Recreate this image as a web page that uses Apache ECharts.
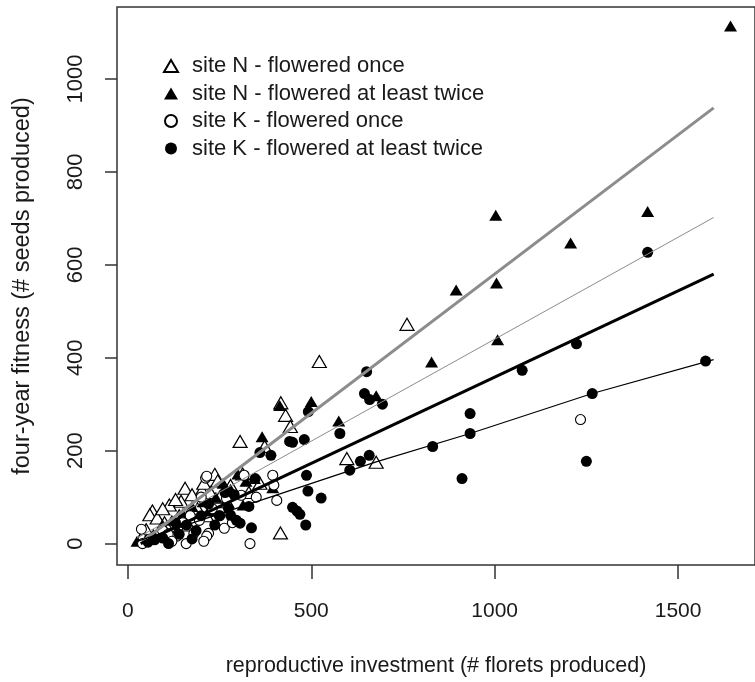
<!DOCTYPE html>
<html>
<head>
<meta charset="utf-8">
<script src="https://cdn.jsdelivr.net/npm/echarts@6/dist/echarts.min.js"></script>
<style>
html,body{margin:0;padding:0;background:#fff;}
#chart{width:755px;height:682px;}
</style>
</head>
<body>
<div id="chart"></div>
<script>
// ---- data ----
const seriesNames = [
  'site N - flowered once',
  'site N - flowered at least twice',
  'site K - flowered once',
  'site K - flowered at least twice'
];
const xTicks = [0, 500, 1000, 1500];
const yTicks = [0, 200, 400, 600, 800, 1000];
const xTitle = 'reproductive investment (# florets produced)';
const yTitle = 'four-year fitness (# seeds produced)';

// site N - flowered once (open triangles)
const nOnceX = [761,522,417,430,443,306,373,597,677,416,237,313,156,202,207,145,113,67,60,80,95,130,175,225,250,270,190,215,245,165,100,50,40,85,140,280,330,360];
const nOnceY = [472,392,303,276,252,220,209,183,175,23,149,150,119,115,130,91,83,70,62,55,75,95,105,110,100,90,75,60,135,40,45,30,15,25,60,125,110,130];

// site N - flowered at least twice (filled triangles)
const nTwiceX = [1643,1003,1417,1207,895,1005,828,1008,677,414,500,575,366,280,322,314,240,205,175,150,120,95,70,50,25,135,260,300,345,395,225];
const nTwiceY = [1114,707,715,647,546,561,391,439,318,297,306,264,230,117,134,83,100,90,80,65,50,40,20,10,5,30,130,150,140,120,70];

// site K - flowered once (open circles)
const kOnceX = [1234,406,395,398,333,212,215,317,309,269,263,220,215,207,159,37,40,180,94,134,60,110,150,170,195,230,250,285,350,120,200];
const kOnceY = [267,93,147,126,0,141,145,147,104,97,33,22,16,5,0,31,0,22,29,16,10,20,45,60,50,75,60,45,100,5,100];

// site K - flowered at least twice (filled circles)
const kTwiceX = [1575,1417,1223,1266,1250,1075,933,933,911,831,651,645,659,694,578,492,441,449,481,605,634,658,360,390,487,491,527,449,461,469,485,347,274,296,280,306,237,186,111,73,337,250,160,140,95,55,200,220,265,290,330,175,130];
const kTwiceY = [393,627,430,323,177,373,280,237,140,209,370,323,310,300,237,284,220,218,224,158,177,190,196,190,147,113,98,78,70,63,40,140,76,50,61,44,40,28,0,8,34,60,40,20,12,3,60,85,110,105,80,10,45];

// fitted lines (end/turn points)
const fitThickGrayX = [40, 1597];
const fitThickGrayY = [5, 938];
const fitThinGrayX = [25, 1597];
const fitThinGrayY = [12, 702];
const fitThickBlackX = [35, 1597];
const fitThickBlackY = [0, 580];
const fitThinBlackX = [15, 677, 933, 1266, 1597];
const fitThinBlackY = [2, 176, 237, 323, 396];

// ---- build ----
const zip = (xs, ys) => xs.map((x, i) => [x, ys[i]]);
const FONT = 'Liberation Sans, Arial, sans-serif';
const TXT = '#1a1a1a';
const AX = '#333';
const plain = v => String(v);

const chart = echarts.init(document.getElementById('chart'), null, {renderer: 'canvas'});

const option = {
  animation: false,
  backgroundColor: '#fff',
  grid: {
    left: 117, top: 7, width: 647, height: 560,
    show: true, borderColor: AX, borderWidth: 1.5, backgroundColor: 'transparent'
  },
  xAxis: {
    type: 'value',
    min: -29.57, max: 1709.7,
    axisLine: {show: false, onZero: false},
    splitLine: {show: false},
    axisTick: {show: true, length: 14, inside: false, customValues: xTicks, lineStyle: {color: AX, width: 1.5}},
    axisLabel: {customValues: xTicks, formatter: plain, margin: 36, fontSize: 21, fontFamily: FONT, color: TXT},
    name: xTitle,
    nameLocation: 'middle',
    nameGap: 90,
    nameTextStyle: {fontSize: 21.5, fontFamily: FONT, color: TXT}
  },
  yAxis: {
    type: 'value',
    min: -46.1, max: 1155.1,
    axisLine: {show: false, onZero: false},
    splitLine: {show: false},
    axisTick: {show: true, length: 12, inside: false, customValues: yTicks, lineStyle: {color: AX, width: 1.5}},
    axisLabel: {customValues: yTicks, formatter: plain, rotate: 90, margin: 30, fontSize: 22, fontFamily: FONT, color: TXT},
    name: yTitle,
    nameLocation: 'middle',
    nameGap: 82,
    nameTextStyle: {fontSize: 23.5, fontFamily: FONT, color: TXT}
  },
  legend: {
    data: seriesNames,
    orient: 'vertical',
    left: 158, top: 50,
    itemWidth: 14, itemHeight: 12,
    itemGap: 5.5,
    formatter: '{g|}{name}',
    textStyle: {
      fontSize: 22, fontFamily: FONT, color: TXT,
      rich: {g: {width: 9}}
    }
  },
  series: [
    {
      name: seriesNames[0], type: 'scatter', z: 2,
      symbol: 'triangle', symbolSize: [14, 12],
      itemStyle: {color: '#fff', borderColor: '#000', borderWidth: 1.2, opacity: 1},
      data: zip(nOnceX, nOnceY)
    },
    {
      name: seriesNames[1], type: 'scatter', z: 2,
      symbol: 'triangle', symbolSize: [13, 11],
      itemStyle: {color: '#000', borderColor: '#000', borderWidth: 0, opacity: 1},
      data: zip(nTwiceX, nTwiceY)
    },
    {
      name: seriesNames[2], type: 'scatter', z: 2,
      symbol: 'circle', symbolSize: 10,
      itemStyle: {color: '#fff', borderColor: '#000', borderWidth: 1.1, opacity: 1},
      data: zip(kOnceX, kOnceY)
    },
    {
      name: seriesNames[3], type: 'scatter', z: 2,
      symbol: 'circle', symbolSize: 11,
      itemStyle: {color: '#000', borderColor: '#000', borderWidth: 0, opacity: 1},
      data: zip(kTwiceX, kTwiceY)
    },
    {
      name: 'fit1', type: 'line', z: 3, symbol: 'none', silent: true,
      lineStyle: {color: '#8c8c8c', width: 3},
      data: zip(fitThickGrayX, fitThickGrayY)
    },
    {
      name: 'fit2', type: 'line', z: 3, symbol: 'none', silent: true,
      lineStyle: {color: '#8c8c8c', width: 1},
      data: zip(fitThinGrayX, fitThinGrayY)
    },
    {
      name: 'fit3', type: 'line', z: 3, symbol: 'none', silent: true,
      lineStyle: {color: '#000', width: 3},
      data: zip(fitThickBlackX, fitThickBlackY)
    },
    {
      name: 'fit4', type: 'line', z: 3, symbol: 'none', silent: true,
      lineStyle: {color: '#000', width: 1.2},
      data: zip(fitThinBlackX, fitThinBlackY)
    }
  ]
};
chart.setOption(option);
</script>
</body>
</html>
